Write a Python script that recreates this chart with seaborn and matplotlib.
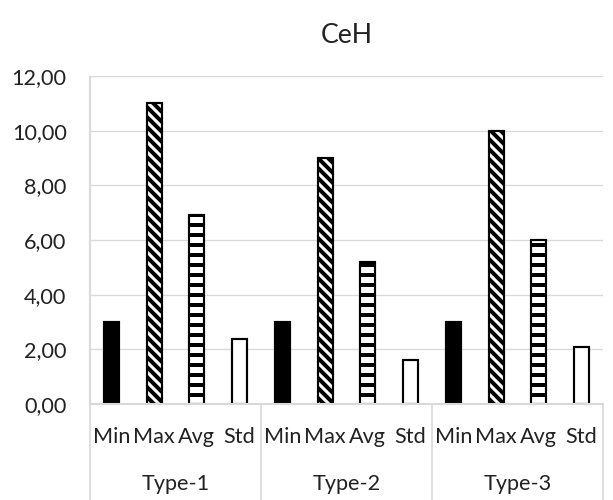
import pandas as pd
import matplotlib.pyplot as plt
import matplotlib.transforms as mtransforms
import seaborn as sns

sns.set_theme(style="white")
plt.rcParams["font.family"] = ["Lato", "DejaVu Sans"]
plt.rcParams["hatch.linewidth"] = 2.4

# data
groups = ["Type-1", "Type-2", "Type-3"]
stats = ["Min", "Max", "Avg", "Std"]
min_vals = [3.0, 3.0, 3.0]
max_vals = [11.0, 9.0, 10.0]
avg_vals = [6.9, 5.2, 6.0]
std_vals = [2.37, 1.6, 2.07]
yticks = [0, 2, 4, 6, 8, 10, 12]

rows = []
for i, g in enumerate(groups):
    for s, vals in zip(stats, [min_vals, max_vals, avg_vals, std_vals]):
        rows.append({"group": g, "stat": s, "key": f"{g} {s}", "value": vals[i]})
df = pd.DataFrame(rows)

fig = plt.figure(figsize=(613 / 120, 500 / 120), dpi=120)
ax = fig.add_axes([90 / 613, 96 / 500, 513 / 613, 328 / 500])

colors = {"Min": "black", "Max": "white", "Avg": "white", "Std": "white"}
sns.barplot(data=df, x="key", y="value", hue="stat", order=list(df["key"]),
            hue_order=stats, palette=colors, dodge=False, width=0.35,
            edgecolor="black", linewidth=1.3, legend=False, ax=ax)

hatches = {"Min": None, "Max": "\\\\\\\\", "Avg": "--", "Std": None}
for cont, s in zip(ax.containers, stats):
    for bar in cont:
        if hatches[s]:
            bar.set_hatch(hatches[s])

ax.set_xlim(-0.5, len(df) - 0.5)
ax.set_ylim(0, 12)
ax.set_yticks(yticks)
ax.set_yticklabels([f"{t:.2f}".replace(".", ",") for t in yticks], fontsize=13, color="#222222")
ax.set_xticks(range(len(df)))
ax.set_xticklabels(df["stat"], fontsize=13, color="#222222")
ax.tick_params(axis="x", length=0, pad=14)
ax.tick_params(axis="y", length=0, pad=14)
ax.set_xlabel("")
ax.set_ylabel("")
ax.yaxis.grid(True, color="#d9d9d9", linewidth=0.8)
ax.set_axisbelow(True)
for side in ["top", "right"]:
    ax.spines[side].set_visible(False)
ax.spines["left"].set_color("#d9d9d9")
ax.spines["left"].set_linestyle((0, (1, 1)))
ax.spines["bottom"].set_color("#d9d9d9")

# group labels and separators below the axis
trans = mtransforms.blended_transform_factory(ax.transData, ax.transAxes)
for b in [-0.5, 3.5, 7.5, 11.5]:
    ax.plot([b, b], [0, -0.3], transform=trans, color="#d9d9d9", lw=1, clip_on=False)
for i, g in enumerate(groups):
    ax.text(i * 4 + 1.5, -0.245, g, transform=trans, ha="center", va="center",
            fontsize=13, color="#222222")

ax.set_title("CeH", fontsize=16, color="#222222", pad=20)

fig.savefig("out.png", dpi=120)
